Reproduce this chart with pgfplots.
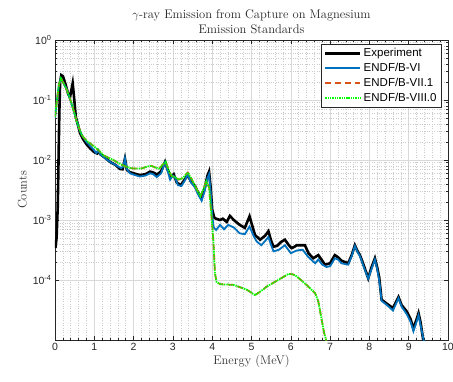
\documentclass[border=0pt]{standalone}
\usepackage{pgfplots}
\pgfplotsset{compat=1.18}
\usepackage{fontspec}
\newfontfamily\arial{Liberation Sans}

\definecolor{mblue}{rgb}{0,0.447,0.741}
\definecolor{mred}{rgb}{0.85,0.325,0.098}
\definecolor{mgreen}{rgb}{0,1,0}
\definecolor{axgray}{rgb}{0.15,0.15,0.15}

\begin{document}
\begin{tikzpicture}
\begin{axis}[
  name=ax,
  at={(0,0)}, anchor=south west,
  scale only axis,
  width=393pt, height=300pt,
  xmin=0, xmax=10,
  ymode=log, ymin=1e-5, ymax=1,
  xtick={0,1,...,10},
  minor x tick num=4,
  ytick={1e-4,1e-3,1e-2,1e-1,1},
  yticklabels={10\textsuperscript{-4},10\textsuperscript{-3},10\textsuperscript{-2},10\textsuperscript{-1},10\textsuperscript{0}},
  /pgf/number format/assume math mode=true,
  tick label style={font=\arial\fontsize{10.5}{12}\selectfont, text=axgray},
  axis line style={axgray, line width=0.5pt},
  tick style={axgray, line width=0.5pt},
  major tick length=4pt, minor tick length=2pt,
  xmajorgrids, ymajorgrids, xminorgrids, yminorgrids,
  major grid style={gray!30, line width=0.5pt},
  minor grid style={gray!40, dotted, line width=0.5pt},
  title={$\gamma$-ray Emission from Capture on Magnesium\\Emission Standards},
  title style={align=center, font=\fontsize{12.5}{14.5}\selectfont, text=black!85, yshift=-3pt},
  xlabel={Energy (MeV)},
  ylabel={Counts},
  label style={font=\fontsize{12.5}{14}\selectfont, text=black!80},
  xlabel style={yshift=3pt},
  ylabel style={yshift=-1pt},
  legend cell align=left,
  legend style={at={(0.983,0.988)}, anchor=north east,
    font=\arial\fontsize{11.5}{13}\selectfont, draw=axgray, line width=0.5pt,
    inner sep=2.5pt, row sep=1pt},
  legend image code/.code={\draw[#1] (0pt,0pt) -- (35pt,0pt);},
]
% measured spectrum
\addplot[black, line width=2.6pt] coordinates {
(0.01,3.4e-4) (0.04,5e-4) (0.07,1.7e-3) (0.09,1e-2) (0.11,0.06) (0.13,0.2)
(0.16,0.26) (0.2,0.25) (0.26,0.19) (0.33,0.13) (0.38,0.11) (0.42,0.15)
(0.45,0.19) (0.48,0.12) (0.53,0.052) (0.6,0.035) (0.64,0.028) (0.72,0.022)
(0.81,0.018) (0.9,0.0155) (1.0,0.0135) (1.07,0.0129) (1.1,0.0142) (1.15,0.0125)
(1.25,0.0112) (1.4,0.0093) (1.55,0.0082) (1.65,0.0071) (1.72,0.0070) (1.78,0.0105)
(1.83,0.0068) (1.9,0.0063) (2.0,0.006) (2.16,0.0056) (2.3,0.0058) (2.42,0.0064)
(2.5,0.0062) (2.6,0.0057) (2.7,0.0065) (2.8,0.0093) (2.87,0.0068) (2.95,0.0052)
(3.02,0.0058) (3.1,0.0042) (3.2,0.0038) (3.3,0.0047) (3.38,0.0057) (3.45,0.0045)
(3.56,0.0037) (3.65,0.0028) (3.73,0.0023) (3.8,0.0032) (3.88,0.0055) (3.92,0.0064)
(3.96,0.0035) (4.0,0.0015) (4.05,0.0011) (4.1,0.00105) (4.2,0.00100) (4.27,0.00105)
(4.37,0.00093) (4.45,0.00117) (4.55,0.00100) (4.7,0.00083) (4.83,0.00074) (4.95,0.00115)
(5.02,0.0008) (5.09,0.00056) (5.22,0.00047) (5.35,0.00055) (5.43,0.00065) (5.5,0.00045)
(5.56,0.00036) (5.65,0.00037) (5.75,0.00043) (5.85,0.00047) (5.95,0.00038) (6.02,0.00034)
(6.1,0.00036) (6.15,0.00038) (6.23,0.00038) (6.36,0.00038) (6.45,0.00028) (6.57,0.00023)
(6.7,0.00026) (6.8,0.00021) (6.87,0.00018) (7.0,0.00019) (7.12,0.00026) (7.2,0.00024)
(7.29,0.00021) (7.46,0.00019) (7.55,0.00026) (7.63,0.00038) (7.7,0.00030) (7.76,0.00026)
(7.85,0.00018) (7.97,0.000107) (8.05,0.00016) (8.14,0.00023) (8.2,0.00016) (8.25,0.00011)
(8.31,0.000047) (8.45,0.000040) (8.6,0.000034) (8.74,0.000052) (8.82,0.000038) (8.95,0.000030)
(9.05,0.000022) (9.12,0.0000155) (9.2,0.000022) (9.25,0.000028) (9.3,0.00002) (9.37,0.00001)
(9.4,0.000008)
};
\addlegendentry{Experiment}
% ENDF/B-VI
\addplot[mblue, line width=1.8pt] coordinates {
(0.0,0.05) (0.05,0.1) (0.1,0.18) (0.15,0.23) (0.2,0.2) (0.3,0.15) (0.4,0.095)
(0.5,0.058) (0.55,0.045) (0.62,0.032) (0.7,0.025) (0.8,0.02) (0.9,0.017) (1.0,0.0145)
(1.05,0.013) (1.1,0.0145) (1.15,0.0125) (1.25,0.011) (1.4,0.0093) (1.55,0.0082)
(1.68,0.0073) (1.74,0.0078) (1.78,0.0107) (1.83,0.007) (1.91,0.006) (2.0,0.0057)
(2.16,0.0053) (2.3,0.0055) (2.42,0.006) (2.5,0.0058) (2.59,0.0052) (2.7,0.006)
(2.8,0.0092) (2.87,0.0064) (2.93,0.0047) (3.0,0.0055) (3.05,0.0052) (3.13,0.0038)
(3.22,0.0037) (3.3,0.0045) (3.38,0.0058) (3.45,0.0043) (3.56,0.0035) (3.65,0.0026)
(3.73,0.0021) (3.8,0.0029) (3.88,0.005) (3.92,0.0058) (3.96,0.003) (4.0,0.0012)
(4.04,0.00075) (4.1,0.00068) (4.2,0.00083) (4.3,0.0007) (4.41,0.00083) (4.55,0.00075)
(4.7,0.0006) (4.83,0.00058) (4.95,0.00078) (5.05,0.00055) (5.13,0.00044) (5.25,0.00038)
(5.35,0.00045) (5.43,0.00052) (5.5,0.00038) (5.56,0.0003) (5.7,0.00032) (5.85,0.00038)
(6.0,0.00028) (6.15,0.00031) (6.3,0.00032) (6.45,0.00024) (6.62,0.00019) (6.7,0.00022)
(6.8,0.00018) (6.91,0.000165) (7.0,0.00017) (7.12,0.00023) (7.2,0.00022) (7.29,0.00019)
(7.46,0.00018) (7.55,0.00025) (7.63,0.00037) (7.7,0.00029) (7.76,0.00025) (7.85,0.00017)
(7.97,0.000105) (8.05,0.00015) (8.14,0.00022) (8.2,0.00015) (8.25,0.0001) (8.31,0.000045)
(8.45,0.000038) (8.6,0.000031) (8.74,0.00005) (8.82,0.000036) (8.95,0.000027) (9.05,0.00002)
(9.12,0.000014) (9.2,0.00002) (9.25,0.000026) (9.3,0.000018) (9.38,0.00001) (9.41,0.000008)
};
\addlegendentry{ENDF/B-VI}
% ENDF/B-VII.1 and ENDF/B-VIII.0 (identical evaluations)
\pgfplotstableread{
E      C
0.0    0.052
0.05   0.1
0.1    0.18
0.15   0.23
0.2    0.2
0.3    0.148
0.42   0.089
0.51   0.056
0.55   0.044
0.68   0.026
0.8    0.021
0.89   0.019
1.1    0.0148
1.23   0.012
1.48   0.01
1.7    0.0083
1.8    0.0078
1.9    0.0074
2.0    0.0072
2.2    0.0072
2.35   0.0078
2.45   0.008
2.55   0.0075
2.65   0.0072
2.75   0.0085
2.82   0.0093
2.9    0.0065
2.97   0.0054
3.05   0.0052
3.15   0.0047
3.25   0.005
3.38   0.0062
3.5    0.0045
3.6    0.0033
3.7    0.0025
3.78   0.0033
3.85   0.0044
3.92   0.0035
3.98   0.0012
4.03   0.00045
4.07   0.00013
4.11   0.000093
4.2    0.000085
4.54   0.000083
4.88   0.000069
5.09   0.000056
5.25   0.000066
5.39   0.000078
5.68   0.0001
5.94   0.000126
6.05   0.000125
6.15   0.000115
6.4    0.000083
6.62   0.00006
6.7    0.000044
6.79   0.000021
6.85   0.000013
6.9    0.00001
6.95   0.000008
}\evaltable
\addplot[mred, line width=1.7pt, dash pattern=on 6pt off 4pt] table[x=E, y=C] {\evaltable};
\addlegendentry{ENDF/B-VII.1}
\addplot[mgreen, line width=1.8pt, dash pattern=on 1.4pt off 0.9pt] table[x=E, y=C] {\evaltable};
\addlegendentry{ENDF/B-VIII.0}
\end{axis}
\pgfresetboundingbox
\path[use as bounding box] (-55pt,-41pt) rectangle (398pt,340pt);
\end{tikzpicture}
\end{document}
